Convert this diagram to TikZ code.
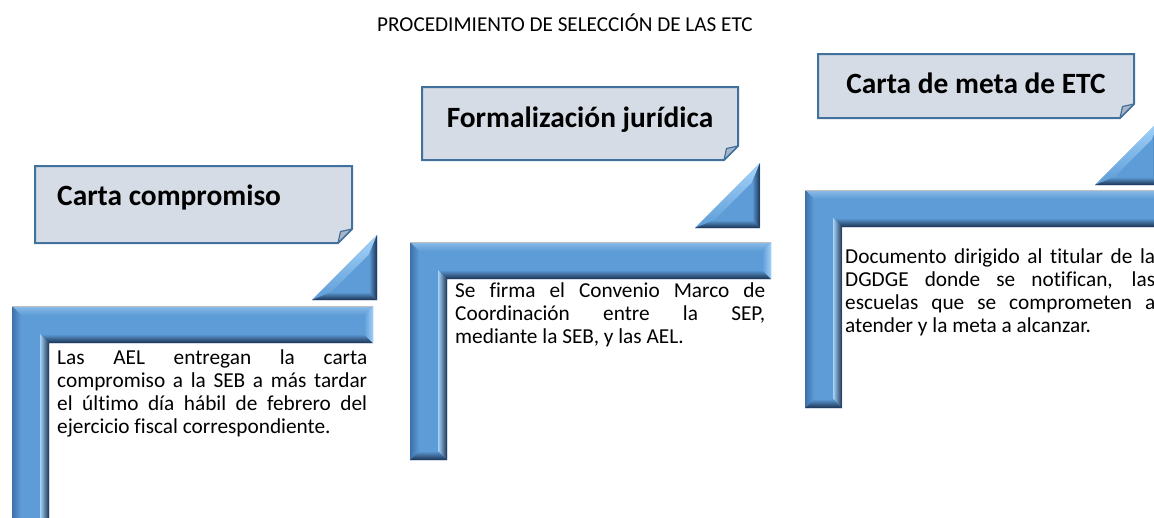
\documentclass[tikz,border=0pt]{standalone}
\usepackage{fontspec}
\setmainfont{Carlito}[Ligatures=NoCommon]
\definecolor{mainblue}{RGB}{93,156,215}
\definecolor{toplight}{RGB}{140,188,232}
\definecolor{leftdark}{RGB}{62,112,168}
\definecolor{darkbevel}{RGB}{28,50,82}
\definecolor{stripelight}{RGB}{165,212,250}
\definecolor{caplight}{RGB}{160,208,248}
\definecolor{boxfill}{RGB}{214,220,229}
\definecolor{boxborder}{RGB}{65,113,156}
\definecolor{foldfill}{RGB}{168,181,200}
\newcommand\bevL[4]{% x0 y0 x1 y1
  \pgfmathsetmacro\LxA{#1+9}\pgfmathsetmacro\LyA{#2+9}
  \pgfmathsetmacro\LxT{#1+37}\pgfmathsetmacro\LyT{#2+37}
  \pgfmathsetmacro\LxTb{#1+28}\pgfmathsetmacro\LyTb{#2+28}
  \pgfmathsetmacro\LxE{#3-9}\pgfmathsetmacro\LyE{#4-9}
  \fill[mainblue] (#1,#2) -- (#3,#2) -- (#3,\LyT) -- (\LxT,\LyT) -- (\LxT,#4) -- (#1,#4) -- cycle;
  \shade[top color=toplight,bottom color=mainblue] (#1,#2) -- (#3,#2) -- (\LxE,\LyA) -- (\LxA,\LyA) -- cycle;
  \shade[left color=leftdark,right color=mainblue] (#1,#2) -- (\LxA,\LyA) -- (\LxA,\LyE) -- (#1,#4) -- cycle;
  \shade[top color=mainblue,bottom color=darkbevel] (\LxTb,\LyTb) -- (\LxE,\LyTb) -- (#3,\LyT) -- (\LxT,\LyT) -- cycle;
  \shade[left color=stripelight,right color=darkbevel] (\LxTb,\LyTb) -- (\LxT,\LyT) -- (\LxT,#4) -- (\LxTb,\LyE) -- cycle;
  \shade[left color=mainblue,right color=caplight] (\LxE,\LyA) -- (#3,#2) -- (#3,\LyT) -- (\LxE,\LyTb) -- cycle;
  \shade[top color=mainblue,bottom color=darkbevel] (\LxA,\LyE) -- (\LxTb,\LyE) -- (\LxT,#4) -- (#1,#4) -- cycle;
  \draw[gray!50,line width=0.6pt] (#1,#2) -- (#3,#2);
}
\newcommand\bevTri[3]{% xl yb s
  \pgfmathsetmacro\TxR{#1+#3}\pgfmathsetmacro\TyT{#2-#3}
  \pgfmathsetmacro\TxI{#1+#3-8}\pgfmathsetmacro\TyI{#2-8}
  \pgfmathsetmacro\TyIT{#2-#3+19.3}\pgfmathsetmacro\TxIL{#1+19.3}
  \fill[mainblue] (#1,#2) -- (\TxR,\TyT) -- (\TxR,#2) -- cycle;
  \shade[shading angle=45,top color=stripelight,bottom color=mainblue] (#1,#2) -- (\TxR,\TyT) -- (\TxI,\TyIT) -- (\TxIL,\TyI) -- cycle;
  \shade[left color=mainblue,right color=darkbevel] (\TxR,\TyT) -- (\TxR,#2) -- (\TxI,\TyI) -- (\TxI,\TyIT) -- cycle;
  \shade[top color=mainblue,bottom color=darkbevel] (#1,#2) -- (\TxR,#2) -- (\TxI,\TyI) -- (\TxIL,\TyI) -- cycle;
}
\newcommand\foldbox[4]{% x0 y0 x1 y1
  \pgfmathsetmacro\FxC{#3-14}\pgfmathsetmacro\FyC{#4-14}
  \pgfmathsetmacro\FxP{#3-11.5}\pgfmathsetmacro\FyP{#4-11.5}
  \draw[boxborder,fill=boxfill,line width=2pt,line join=miter] (#1,#2) -- (#3,#2) -- (#3,\FyC) -- (\FxC,#4) -- (#1,#4) -- cycle;
  \draw[boxborder,fill=foldfill,line width=1.2pt,line join=round] (\FxC,#4) -- (#3,\FyC) -- (\FxP,\FyP) -- cycle;
}
\tikzset{
  heading/.style={font=\fontsize{29.4}{34}\selectfont\bfseries,inner sep=0pt},
  body/.style={inner sep=0pt,anchor=base west},
  titletext/.style={font=\fontsize{21.2}{25}\selectfont,inner sep=0pt,anchor=base}
}
\newcommand\bodyfont{\fontsize{21.3}{23.1}\selectfont}
\newcommand\jline[1]{\makebox[310pt][s]{#1}\\}
\begin{document}
\begin{tikzpicture}[x=1pt,y=-1pt]
\useasboundingbox (0,0) rectangle (1154,517);
% title
\node[titletext] (title) at (565,31) {PROCEDIMIENTO DE SELECCIÓN DE LAS ETC};
% step 1
\foldbox{35}{166}{352}{243}
\node[heading,anchor=base west] (h1) at (57,205) {Carta compromiso};
\bevTri{312}{300}{65}
\bevL{12}{306}{373}{530}
\node[body] (b1) at (57,364) {\parbox[t]{310pt}{\bodyfont
  \jline{Las AEL entregan la carta}
  \jline{compromiso a la SEB a más tardar}
  \jline{el último día hábil de febrero del}
  ejercicio fiscal correspondiente.}};
% step 2
\foldbox{422}{87}{738}{160}
\node[heading,anchor=base] (h2) at (580,127) {Formalización jurídica};
\bevTri{695}{228}{65}
\bevL{410}{242}{771}{460}
\node[body] (b2) at (455,297) {\parbox[t]{310pt}{\bodyfont
  \jline{Se firma el Convenio Marco de}
  \jline{Coordinación entre la SEP,}
  mediante la SEB, y las AEL.}};
% step 3
\foldbox{818}{54}{1134}{118}
\node[heading,anchor=base] (h3) at (976,93) {Carta de meta de ETC};
\bevTri{1095}{185}{65}
\bevL{805}{190}{1170}{408}
\node[body] (b3) at (845,263) {\parbox[t]{310pt}{\bodyfont
  \jline{Documento dirigido al titular de la}
  \jline{DGDGE donde se notifican, las}
  \jline{escuelas que se comprometen a}
  atender y la meta a alcanzar.}};
\end{tikzpicture}
\end{document}
